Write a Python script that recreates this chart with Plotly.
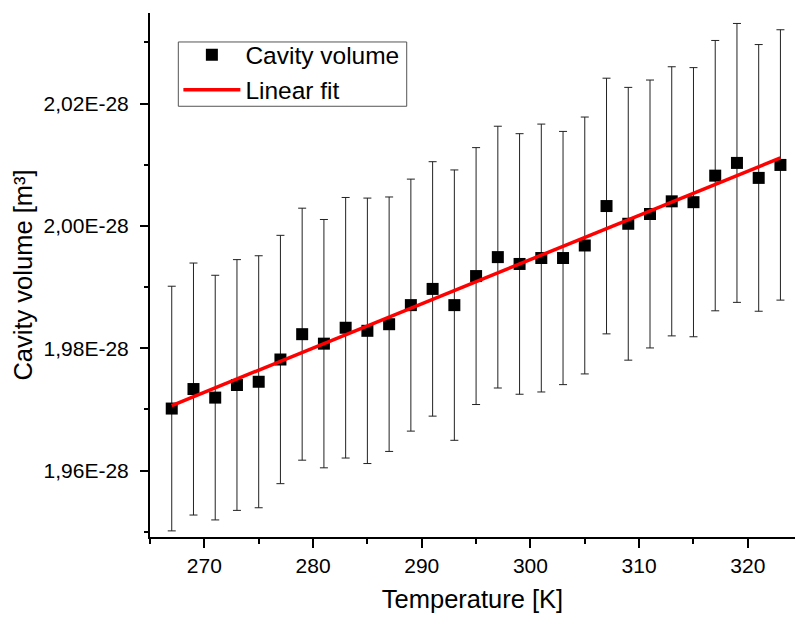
import numpy as np
import plotly.graph_objects as go

# Data (volume in units of 1e-28 m^3)
temperature = [267, 269, 271, 273, 275, 277, 279, 281, 283, 285, 287, 289, 291, 293, 295,
               297, 299, 301, 303, 305, 307, 309, 311, 313, 315, 317, 319, 321, 323]
volume_e28 = [1.97014, 1.97333, 1.97193, 1.97399, 1.97452, 1.97816, 1.98230, 1.98075, 1.98335, 1.98285,
              1.98393, 1.98705, 1.98970, 1.98705, 1.99180, 1.99490, 1.99378, 1.99475, 1.99475, 1.99680,
              2.00325, 2.00035, 2.00195, 2.00402, 2.00388, 2.00822, 2.01030, 2.00785, 2.00997]
error_e28 = [0.0200, 0.0206, 0.0200, 0.0205, 0.0206, 0.0203, 0.0206, 0.0203, 0.0213, 0.0217,
             0.0208, 0.0206, 0.0208, 0.0221, 0.0210, 0.0214, 0.0213, 0.0219, 0.0207, 0.0210,
             0.0209, 0.0223, 0.0219, 0.0220, 0.0220, 0.0221, 0.0228, 0.0218, 0.0221]

y_tickvals = [1.96, 1.98, 2.00, 2.02]
y_ticktext = ["1,96E-28", "1,98E-28", "2,00E-28", "2,02E-28"]
x_tickvals = [270, 280, 290, 300, 310, 320]

# Linear fit computed from the data
slope, intercept = np.polyfit(temperature, volume_e28, 1)
fit_x = [temperature[0], temperature[-1]]
fit_y = [intercept + slope * t for t in fit_x]

FONT = "Liberation Sans, Arial, sans-serif"
x_range = [265, 324.34]
y_range = [1.94914, 2.03481]

fig = go.Figure()
fig.add_trace(go.Scatter(
    x=temperature, y=volume_e28, mode="markers", name="Cavity volume",
    marker=dict(symbol="square", size=12, color="black"),
    error_y=dict(type="data", array=error_e28, visible=True, color="#222222",
                 thickness=1, width=4),
))
fig.add_trace(go.Scatter(
    x=fit_x, y=fit_y, mode="lines", name="Linear fit",
    line=dict(color="#ff0000", width=3.5),
))

# legend frame
fig.add_shape(type="rect", xref="paper", yref="paper",
              x0=0.0439, x1=0.398, y0=0.822, y1=0.9447,
              line=dict(color="#555555", width=1), fillcolor="white", layer="below")

fig.update_layout(
    width=795, height=619,
    margin=dict(l=150, r=0, t=13, b=82),
    paper_bgcolor="white", plot_bgcolor="white",
    font=dict(family=FONT, color="black"),
    showlegend=True,
    legend=dict(
        x=0.044, y=0.963, xanchor="left", yanchor="top",
        bgcolor="rgba(0,0,0,0)", borderwidth=0,
        font=dict(size=24.5, family=FONT, color="black"),
        itemwidth=57, tracegroupgap=0,
    ),
    xaxis=dict(
        range=x_range, showgrid=False, zeroline=False,
        showline=True, linecolor="black", linewidth=2,
        ticks="outside", ticklen=9, tickwidth=1.5, tickcolor="black",
        tickmode="array", tickvals=x_tickvals,
        tickfont=dict(size=21, family=FONT, color="black"),
        minor=dict(dtick=5, tick0=265, ticks="outside", ticklen=5, tickwidth=1.5,
                   tickcolor="black", showgrid=False),
        title=dict(text="Temperature [K]", font=dict(size=25.5, family=FONT, color="black"),
                   standoff=14),
    ),
    yaxis=dict(
        range=y_range, showgrid=False, zeroline=False,
        showline=True, linecolor="black", linewidth=2,
        ticks="outside", ticklen=8, tickwidth=1.5, tickcolor="black",
        tickmode="array", tickvals=y_tickvals, ticktext=y_ticktext,
        ticklabelstandoff=7,
        tickfont=dict(size=21, family=FONT, color="black"),
        minor=dict(tickmode="array", tickvals=[1.95, 1.97, 1.99, 2.01, 2.03],
                   ticks="outside", ticklen=4, tickwidth=1.5, tickcolor="black", showgrid=False),
        title=dict(text="Cavity volume [m³]", font=dict(size=25.5, family=FONT, color="black"),
                   standoff=4),
    ),
    xaxis2=dict(
        range=x_range, overlaying="x", side="top", anchor="y",
        showgrid=False, zeroline=False, showline=True, linecolor="black", linewidth=2,
        ticks="inside", ticklen=9, tickwidth=1.5, tickcolor="black",
        tickmode="array", tickvals=x_tickvals, showticklabels=False,
        minor=dict(dtick=5, tick0=265, ticks="inside", ticklen=5, tickwidth=1.5,
                   tickcolor="black", showgrid=False),
    ),
    yaxis2=dict(
        range=y_range, overlaying="y", side="right", anchor="x",
        showgrid=False, zeroline=False, showline=False,
        ticks="inside", ticklen=3, tickwidth=1.5, tickcolor="black",
        tickmode="array", tickvals=y_tickvals, showticklabels=False,
    ),
)

fig.write_html("out.html")
